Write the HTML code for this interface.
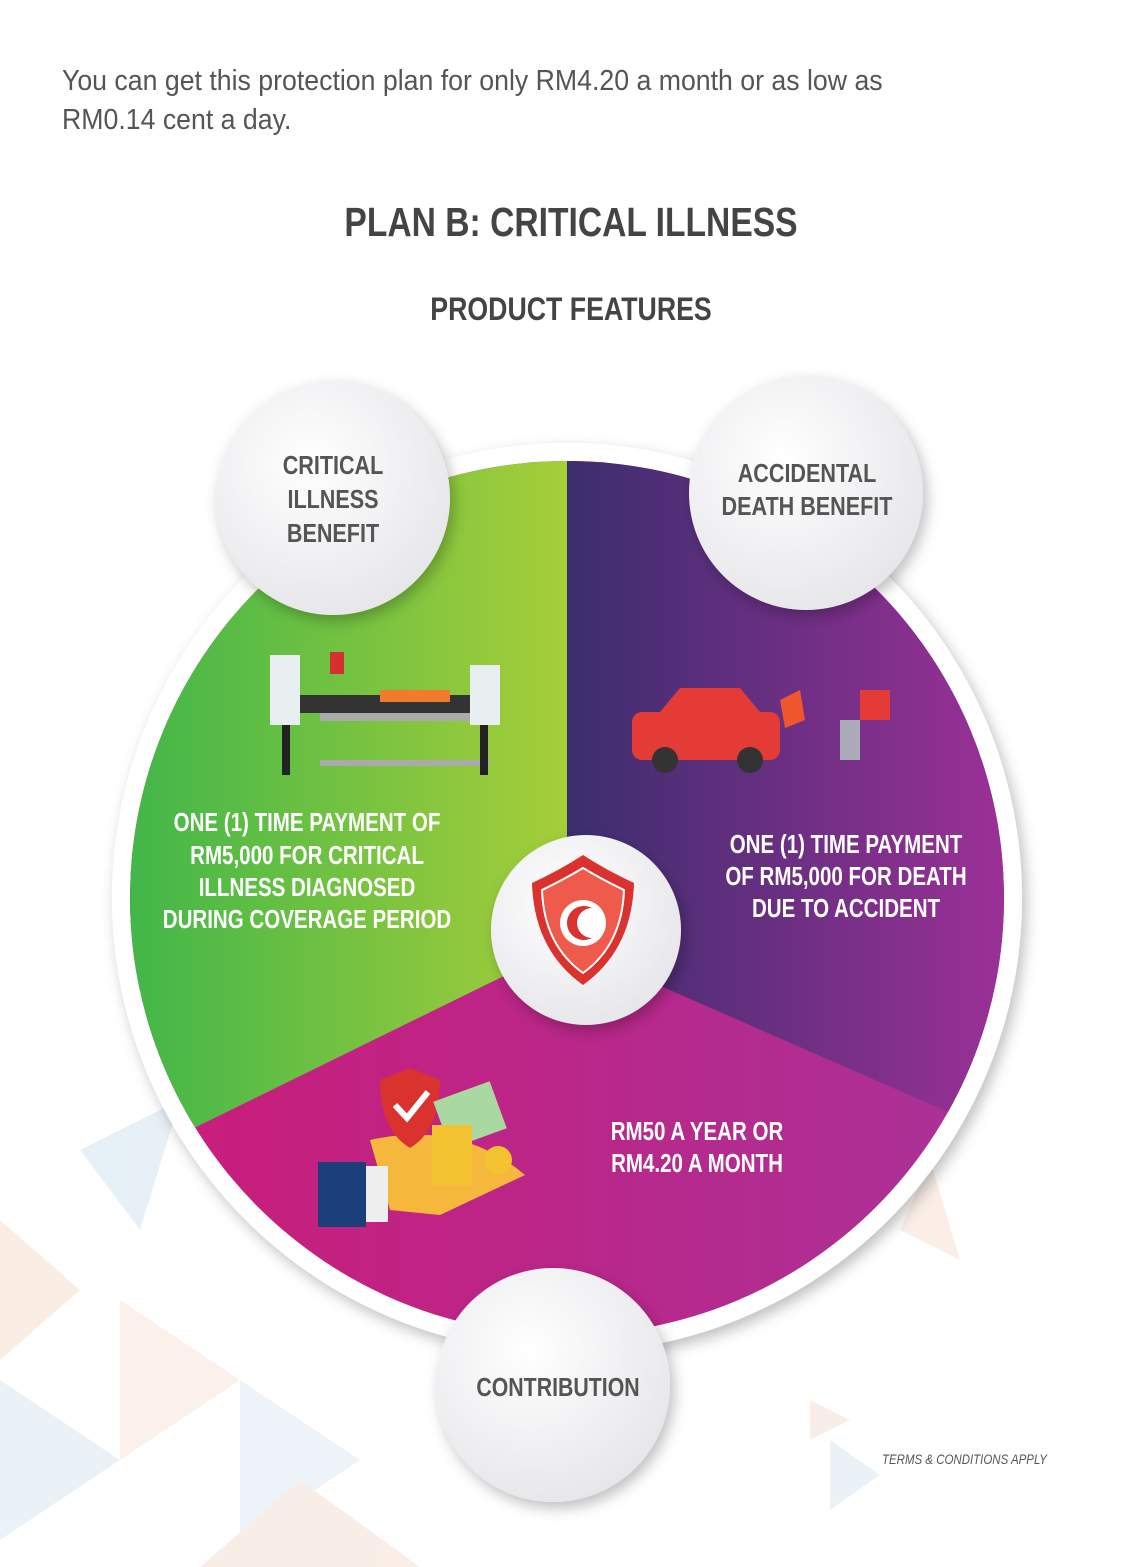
<!DOCTYPE html>
<html><head><meta charset="utf-8"><style>
html,body{margin:0;padding:0;background:#fff}
body{width:1140px;height:1567px;position:relative;overflow:hidden;font-family:"Liberation Sans",sans-serif}
.t{position:absolute;left:62px;top:62px;font-size:29px;line-height:39px;color:#555;transform:scaleX(0.92);transform-origin:left top;width:1000px}
svg{position:absolute;left:0;top:0}
</style></head><body>
<svg width="1140" height="1567" viewBox="0 0 1140 1567">
<defs>
<linearGradient id="g1" x1="0" x2="1"><stop offset="0" stop-color="#3bb54a"/><stop offset="1" stop-color="#a6ce39"/></linearGradient>
<linearGradient id="g2" x1="0" x2="1"><stop offset="0" stop-color="#3b2e6e"/><stop offset="1" stop-color="#a3309a"/></linearGradient>
<linearGradient id="g3" x1="0" x2="1"><stop offset="0" stop-color="#cc1b78"/><stop offset="1" stop-color="#a8339a"/></linearGradient>
<radialGradient id="b" cx="0.4" cy="0.35" r="0.7"><stop offset="0" stop-color="#fff"/><stop offset="1" stop-color="#e6e6ea"/></radialGradient>
<clipPath id="c"><circle cx="567" cy="898" r="437"/></clipPath>
<filter id="s" x="-20%" y="-20%" width="140%" height="140%"><feDropShadow dx="4" dy="6" stdDeviation="7" flood-color="#000" flood-opacity="0.25"/></filter>
</defs>
<g opacity="0.5">
<polygon points="0,1220 80,1290 0,1360" fill="#f7dccb"/>
<polygon points="80,1150 180,1100 140,1230" fill="#cfe2f0"/>
<polygon points="0,1380 120,1460 0,1540" fill="#d6e7f3"/>
<polygon points="120,1300 240,1380 120,1460" fill="#f8e3d6"/>
<polygon points="240,1380 360,1460 240,1540" fill="#dde9f4"/>
<polygon points="300,1480 420,1567 200,1567" fill="#f5ddd0"/>
<polygon points="810,1400 850,1420 810,1440" fill="#f5ddd0"/>
<polygon points="830,1440 880,1475 830,1510" fill="#d6e7f3"/>
<polygon points="930,1160 960,1260 900,1230" fill="#f5ddd0"/>
</g>
<circle cx="567" cy="898" r="455" fill="#fff" filter="url(#s)"/>
<g clip-path="url(#c)">
<rect x="100" y="440" width="940" height="920" fill="url(#g3)"/>
<polygon points="567,440 567,945 190,1130 100,1130 100,440" fill="url(#g1)"/>
<polygon points="567,440 567,945 955,1115 1040,1115 1040,440" fill="url(#g2)"/>
</g>
<g filter="url(#s)">
<circle cx="333" cy="498" r="117" fill="url(#b)"/>
<circle cx="806" cy="493" r="117" fill="url(#b)"/>
<circle cx="553" cy="1385" r="117" fill="url(#b)"/>
<circle cx="586" cy="930" r="95" fill="url(#b)"/>
</g>
<path d="M532,883 Q560,870 583,855 Q606,870 634,883 Q632,950 583,985 Q534,950 532,883Z" fill="#d9322f"/>
<path d="M542,890 Q563,880 583,868 Q603,880 624,890 Q622,945 583,973 Q544,945 542,890Z" fill="#ee5a4b" stroke="#fff" stroke-width="2"/>
<circle cx="583" cy="923" r="23" fill="#fff"/>
<path d="M592,908 A17,17 0 1 0 592,938 A13,13 0 1 1 592,908Z" fill="#d9322f"/>
<g>
<rect x="300" y="695" width="200" height="18" fill="#333"/>
<rect x="380" y="690" width="70" height="12" fill="#f07b2e"/>
<rect x="320" y="713" width="170" height="8" fill="#aaa"/><rect x="320" y="760" width="170" height="6" fill="#aaa"/>
<rect x="270" y="655" width="30" height="70" fill="#e9eef0"/><rect x="470" y="665" width="30" height="60" fill="#e9eef0"/>
<rect x="282" y="725" width="8" height="50" fill="#222"/><rect x="480" y="725" width="8" height="50" fill="#222"/>
<rect x="330" y="652" width="14" height="22" fill="#d62f2f"/>
<rect x="632" y="712" width="148" height="48" rx="10" fill="#e53b36"/>
<path d="M660,712 L680,688 L740,688 L760,712Z" fill="#e53b36"/>
<circle cx="665" cy="760" r="13" fill="#333"/><circle cx="750" cy="760" r="13" fill="#333"/>
<path d="M780,700 L800,690 L805,720 L785,728Z" fill="#f0562d"/>
<rect x="860" y="690" width="30" height="30" fill="#e53b36"/><rect x="840" y="720" width="20" height="40" fill="#aab"/>
<path d="M370,1140 Q460,1120 525,1175 L440,1215 L390,1210Z" fill="#f6b83c"/>
<rect x="318" y="1162" width="48" height="65" fill="#1b3f7a"/><rect x="366" y="1166" width="22" height="56" fill="#eee"/>
<path d="M380,1080 L410,1068 L440,1080 Q440,1130 410,1148 Q380,1130 380,1080Z" fill="#d9322f"/>
<path d="M395,1105 L407,1118 L428,1092" stroke="#fff" stroke-width="6" fill="none"/>
<rect x="440" y="1090" width="60" height="50" fill="#a9d8a0" transform="rotate(-20 470 1115)"/>
<rect x="432" y="1125" width="40" height="60" fill="#f2c230"/>
<circle cx="498" cy="1160" r="14" fill="#f2c230"/>
</g>
<g font-family="Liberation Sans, sans-serif" font-weight="bold" text-anchor="middle">
<text x="0" y="236" font-size="41" fill="#444" transform="translate(571 0) scale(0.82 1)">PLAN B: CRITICAL ILLNESS</text>
<text x="0" y="320" font-size="32" fill="#444" transform="translate(571 0) scale(0.835 1)">PRODUCT FEATURES</text>
<g font-size="26" fill="#555">
<text transform="translate(333 0) scale(0.83 1)" x="0" y="474">CRITICAL</text>
<text transform="translate(333 0) scale(0.83 1)" x="0" y="508">ILLNESS</text>
<text transform="translate(333 0) scale(0.83 1)" x="0" y="542">BENEFIT</text>
<text transform="translate(807 0) scale(0.83 1)" x="0" y="482">ACCIDENTAL</text>
<text transform="translate(807 0) scale(0.83 1)" x="0" y="515">DEATH BENEFIT</text>
<text transform="translate(558 0) scale(0.82 1)" x="0" y="1396">CONTRIBUTION</text>
</g>
<g font-size="26" fill="#fff">
<text transform="translate(307 0) scale(0.79 1)" x="0" y="831">ONE (1) TIME PAYMENT OF</text>
<text transform="translate(307 0) scale(0.79 1)" x="0" y="864">RM5,000 FOR CRITICAL</text>
<text transform="translate(307 0) scale(0.79 1)" x="0" y="896">ILLNESS DIAGNOSED</text>
<text transform="translate(307 0) scale(0.79 1)" x="0" y="928">DURING COVERAGE PERIOD</text>
<text transform="translate(846 0) scale(0.79 1)" x="0" y="853">ONE (1) TIME PAYMENT</text>
<text transform="translate(846 0) scale(0.79 1)" x="0" y="885">OF RM5,000 FOR DEATH</text>
<text transform="translate(846 0) scale(0.79 1)" x="0" y="917">DUE TO ACCIDENT</text>
<text transform="translate(697 0) scale(0.79 1)" x="0" y="1140">RM50 A YEAR OR</text>
<text transform="translate(697 0) scale(0.79 1)" x="0" y="1172">RM4.20 A MONTH</text>
</g>
</g>
<text x="0" y="1464" font-family="Liberation Sans, sans-serif" font-style="italic" font-size="14" fill="#555" transform="translate(882 0) scale(0.82 1)">TERMS &amp; CONDITIONS APPLY</text>
</svg>
<div class="t">You can get this protection plan for only RM4.20 a month or as low as<br>RM0.14 cent a day.</div>
</body></html>
